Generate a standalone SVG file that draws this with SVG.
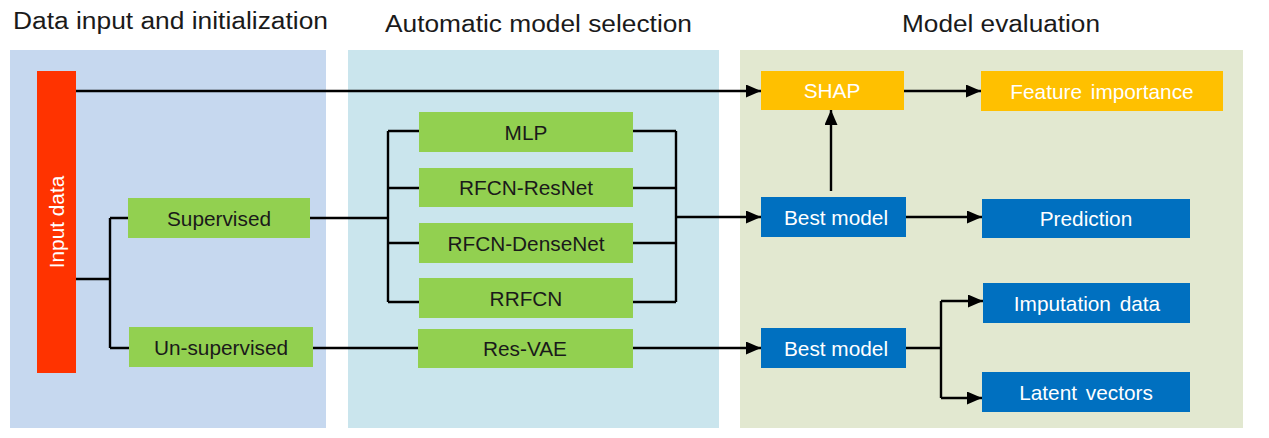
<svg xmlns="http://www.w3.org/2000/svg" width="1269" height="438" viewBox="0 0 1269 438">
<style>
.title{font-family:"Liberation Sans",Arial,sans-serif;font-size:23px;fill:#1a1a1a}
.lbl{font-family:"Liberation Sans",Arial,sans-serif;font-size:20.8px;text-anchor:middle}
.dark{fill:#1a1a1a}
.light{fill:#ffffff}
.green{fill:#92d050}
.blue{fill:#0070c0}
.orange{fill:#ffc000}
.line{fill:none;stroke:#000;stroke-width:2.4}
.arr{fill:none;stroke:#000;stroke-width:2.4;marker-end:url(#ah)}
</style>
<defs>
<marker id="ah" viewBox="0 0 15 13" refX="15" refY="6.5" markerWidth="15" markerHeight="13" markerUnits="userSpaceOnUse" orient="auto">
<path d="M0,0 L15,6.5 L0,13 Z" fill="#000"/>
</marker>
</defs>
<rect width="1269" height="438" fill="#ffffff"/>
<g id="panels">
<rect x="10" y="50" width="316" height="378" fill="#c6d8ef"/>
<rect x="348" y="50" width="371" height="378" fill="#cae5ed"/>
<rect x="740" y="50" width="503" height="378" fill="#e2e8d0"/>
<text class="title" x="13" y="29" textLength="315" lengthAdjust="spacingAndGlyphs">Data input and initialization</text>
<text class="title" x="385" y="32" textLength="307" lengthAdjust="spacingAndGlyphs">Automatic model selection</text>
<text class="title" x="902" y="32" textLength="198" lengthAdjust="spacingAndGlyphs">Model evaluation</text>
</g>
<g id="connectors">
<path class="arr" d="M76,91 H761"/>
<path class="line" d="M76,279 H110 M110,218 V348 M110,218 H128 M110,348 H129"/>
<path class="line" d="M310,218 H388 M388,131 V302 M388,131 H419 M388,188 H419 M388,243 H419 M388,302 H419"/>
<path class="line" d="M633,131 H676 M633,188 H676 M633,243 H676 M633,302 H676 M676,131 V302"/>
<path class="arr" d="M676,217 H761"/>
<path class="line" d="M313,348 H418"/>
<path class="arr" d="M633,348 H761"/>
<path class="arr" d="M904,91 H981"/>
<path class="arr" d="M831,191 V110"/>
<path class="arr" d="M906,217 H982"/>
<path class="line" d="M906,348 H941 M941,301 V398"/>
<path class="arr" d="M941,301 H983"/>
<path class="arr" d="M941,398 H982"/>
</g>
<g id="input-data">
<rect x="37" y="71" width="39" height="302" fill="#ff3300"/>
<text class="lbl light" transform="translate(64,222) rotate(-90)" x="0" y="0">Input data</text>
</g>
<g id="supervised">
<rect class="green" x="128" y="198" width="182" height="40"/>
<text class="lbl dark" x="219" y="225.5">Supervised</text>
</g>
<g id="unsupervised">
<rect class="green" x="129" y="327" width="184" height="40"/>
<text class="lbl dark" x="221" y="354.5">Un-supervised</text>
</g>
<g id="mlp">
<rect class="green" x="419" y="112" width="214" height="40"/>
<text class="lbl dark" x="526" y="139.5">MLP</text>
</g>
<g id="rfcn-resnet">
<rect class="green" x="419" y="168" width="214" height="39"/>
<text class="lbl dark" x="526" y="195">RFCN-ResNet</text>
</g>
<g id="rfcn-densenet">
<rect class="green" x="419" y="223" width="214" height="40"/>
<text class="lbl dark" x="526" y="250.5">RFCN-DenseNet</text>
</g>
<g id="rrfcn">
<rect class="green" x="419" y="278" width="214" height="40"/>
<text class="lbl dark" x="526" y="305.5">RRFCN</text>
</g>
<g id="res-vae">
<rect class="green" x="418" y="329" width="215" height="39"/>
<text class="lbl dark" x="525" y="356">Res-VAE</text>
</g>
<g id="shap">
<rect class="orange" x="761" y="71" width="143" height="39"/>
<text class="lbl light" x="832" y="98">SHAP</text>
</g>
<g id="feature-importance">
<rect class="orange" x="981" y="71" width="242" height="40"/>
<text class="lbl light" x="1102" y="98.5" word-spacing="3">Feature importance</text>
</g>
<g id="best-model-1">
<rect class="blue" x="761" y="197" width="145" height="40"/>
<text class="lbl light" x="836" y="225">Best model</text>
</g>
<g id="prediction">
<rect class="blue" x="982" y="199" width="208" height="39"/>
<text class="lbl light" x="1086" y="226">Prediction</text>
</g>
<g id="imputation-data">
<rect class="blue" x="983" y="283" width="207" height="40"/>
<text class="lbl light" x="1087" y="310.5" word-spacing="3">Imputation data</text>
</g>
<g id="best-model-2">
<rect class="blue" x="761" y="328" width="145" height="40"/>
<text class="lbl light" x="836" y="355.5">Best model</text>
</g>
<g id="latent-vectors">
<rect class="blue" x="982" y="372" width="208" height="40"/>
<text class="lbl light" x="1086" y="399.5" word-spacing="3">Latent vectors</text>
</g>
</svg>
